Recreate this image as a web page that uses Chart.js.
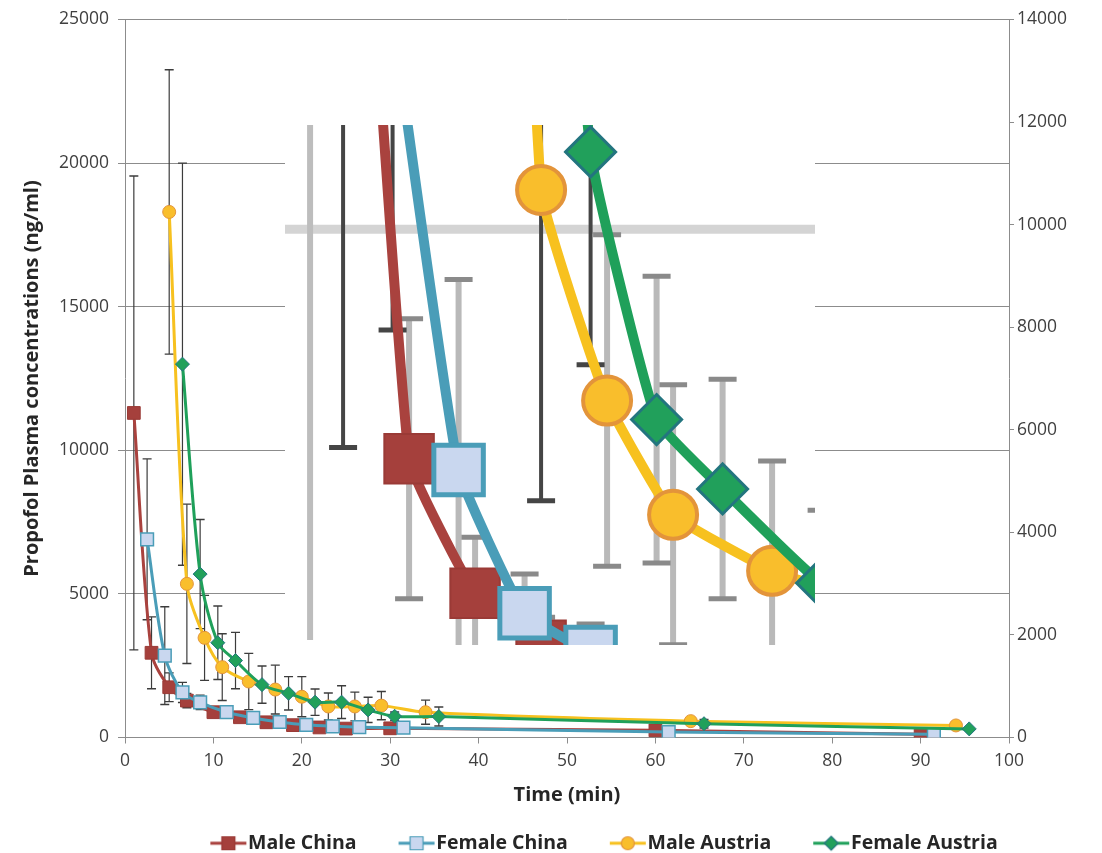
<!DOCTYPE html>
<html>
<head>
<meta charset="utf-8">
<script src="https://cdn.jsdelivr.net/npm/chart.js@4/dist/chart.umd.min.js"></script>
<style>
  html, body { margin: 0; padding: 0; background: #fff; }
  #wrap { position: relative; width: 1102px; height: 853px; }
  #main { position: absolute; left: 0; top: 0; }
  #inset { position: absolute; left: 285px; top: 125px; background: #fff; }
</style>
</head>
<body>
<div id="wrap">
  <canvas id="main" width="1102" height="853"></canvas>
  <canvas id="inset" width="530" height="520"></canvas>
</div>
<script>
// time (min), mean concentration (ng/ml) and SD per group
var timeMaleChina   = [1, 3, 5, 7, 10, 13, 16, 19, 22, 25, 30, 60, 90];
var concMaleChina   = [11300, 2950, 1750, 1285, 880, 705, 530, 430, 350, 310, 320, 250, 110];
var sdMaleChina     = [8250, 1250, 500, 250, 150, 100, 80, 60, 50, 50, 50, 40, 30];

var timeFemaleChina = [2.5, 4.5, 6.5, 8.5, 11.5, 14.5, 17.5, 20.5, 23.5, 26.5, 31.5, 61.5, 91.5];
var concFemaleChina = [6900, 2850, 1570, 1225, 880, 680, 540, 440, 390, 360, 340, 190, 110];
var sdFemaleChina   = [2800, 1700, 350, 250, 150, 100, 80, 60, 50, 50, 50, 40, 30];

var timeMaleAustria = [5, 7, 9, 11, 14, 17, 20, 23, 26, 29, 34, 64, 94];
var concMaleAustria = [18300, 5350, 3470, 2450, 1950, 1670, 1420, 1080, 1080, 1110, 880, 570, 420];
var sdMaleAustria   = [4950, 2775, 1480, 1160, 980, 850, 700, 470, 500, 490, 420, 120, 0];

var timeFemaleAustria = [6.5, 8.5, 10.5, 12.5, 15.5, 18.5, 21.5, 24.5, 27.5, 30.5, 35.5, 65.5, 95.5];
var concFemaleAustria = [13000, 5690, 3300, 2680, 1840, 1540, 1230, 1230, 960, 740, 730, 480, 300];
var sdFemaleAustria   = [7000, 1900, 1280, 980, 650, 580, 460, 570, 440, 150, 330, 150, 0];

var seriesNames = ['Male China', 'Female China', 'Male Austria', 'Female Austria'];
var leftTicks = [0, 5000, 10000, 15000, 20000, 25000];
var rightTicks = [0, 2000, 4000, 6000, 8000, 10000, 12000, 14000];
var timeTicks = [0, 10, 20, 30, 40, 50, 60, 70, 80, 90, 100];

var FONT = "'Open Sans', 'Liberation Sans', sans-serif";
var TXT = '#404040';
var AXIS = '#8c8c8c';

var looks = [
  { line: '#a9423e', fill: '#a5403c', border: '#9a3a36', style: 'rect' },
  { line: '#4a9db8', fill: '#c9d7ef', border: '#4a9db8', style: 'rect' },
  { line: '#f7c11f', fill: '#f9be2c', border: '#e3943a', style: 'circle' },
  { line: '#1fa05a', fill: '#21a05b', border: '#23757f', style: 'rectRot' }
];

function pts(t, v) {
  return t.map(function (x, i) { return { x: x, y: v[i] }; });
}
var allTimes = [timeMaleChina, timeFemaleChina, timeMaleAustria, timeFemaleAustria];
var allConc = [concMaleChina, concFemaleChina, concMaleAustria, concFemaleAustria];
var allSd = [sdMaleChina, sdFemaleChina, sdMaleAustria, sdFemaleAustria];

function buildSets(lineW, radii, borderW, tension) {
  return seriesNames.map(function (name, i) {
    return {
      label: name,
      data: pts(allTimes[i], allConc[i]),
      sd: allSd[i],
      borderColor: looks[i].line,
      borderWidth: lineW,
      pointStyle: looks[i].style,
      pointRadius: radii[i],
      pointBackgroundColor: looks[i].fill,
      pointBorderColor: looks[i].border,
      pointBorderWidth: borderW[i],
      tension: tension,
      order: 3 - i
    };
  });
}

function plainTick(v) { return String(v); }

// error bars drawn under the lines
var errorBars = {
  id: 'errorBars',
  beforeDatasetsDraw: function (chart, args, opts) {
    var ctx = chart.ctx, xs = chart.scales.x, ys = chart.scales.y;
    ctx.save();
    chart.data.datasets.forEach(function (ds, di) {
      ds.data.forEach(function (p, i) {
        var sd = ds.sd[i];
        if (!sd) return;
        var dark = opts.dark && opts.dark[di] && opts.dark[di].indexOf(i) >= 0;
        var px = xs.getPixelForValue(p.x);
        var top = ys.getPixelForValue(p.y + sd);
        var bot = ys.getPixelForValue(p.y - sd);
        ctx.strokeStyle = dark ? opts.darkColor : opts.color;
        ctx.lineWidth = dark ? opts.darkWidth : opts.width;
        ctx.beginPath();
        ctx.moveTo(px, top); ctx.lineTo(px, bot);
        ctx.stroke();
        ctx.strokeStyle = dark ? opts.darkColor : opts.capColor;
        ctx.lineWidth = opts.capWidth;
        ctx.beginPath();
        ctx.moveTo(px - opts.cap, top); ctx.lineTo(px + opts.cap, top);
        ctx.moveTo(px - opts.cap, bot); ctx.lineTo(px + opts.cap, bot);
        ctx.stroke();
      });
    });
    ctx.restore();
  }
};

// the legend sits a little right of the page centre, under the plot
var legendShift = {
  id: 'legendShift',
  afterLayout: function (chart) { chart.legend.left += 74; }
};

// legend icons: short line with the series marker
function makeIcon(i) {
  var c = document.createElement('canvas');
  c.width = 78; c.height = 20;
  var g = c.getContext('2d');
  var x0 = 41, x1 = 77, cx = 59, cy = 10;
  g.strokeStyle = looks[i].line; g.lineWidth = 3;
  g.beginPath(); g.moveTo(x0, cy); g.lineTo(x1, cy); g.stroke();
  g.fillStyle = looks[i].fill; g.strokeStyle = looks[i].border; g.lineWidth = 1.2;
  g.beginPath();
  if (looks[i].style === 'rect') g.rect(cx - 6.5, cy - 6.5, 13, 13);
  else if (looks[i].style === 'circle') g.arc(cx, cy, 6.5, 0, Math.PI * 2);
  else { g.moveTo(cx - 7, cy); g.lineTo(cx, cy - 7); g.lineTo(cx + 7, cy); g.lineTo(cx, cy + 7); g.closePath(); }
  g.fill(); g.stroke();
  return c;
}
var icons = [0, 1, 2, 3].map(makeIcon);

new Chart(document.getElementById('main'), {
  type: 'line',
  data: { datasets: buildSets(3, [9, 9, 6.5, 7], [1, 1.5, 1, 1], 0.3) },
  options: {
    responsive: false,
    animation: false,
    layout: { autoPadding: false, padding: { top: 17, left: 0, right: 0, bottom: -10 } },
    plugins: {
      tooltip: { enabled: false },
      errorBars: { color: '#3c3c3c', capColor: '#3c3c3c', width: 1.2, capWidth: 1.4, cap: 4.5, darkColor: '#3c3c3c', darkWidth: 1.2 },
      legend: {
        position: 'bottom',
        labels: {
          usePointStyle: true,
          pointStyleWidth: 60,
          padding: 10,
          color: '#262626',
          font: { family: FONT, size: 19.5, weight: 'bold' },
          generateLabels: function (chart) {
            return chart.data.datasets.map(function (ds, i) {
              return { text: ds.label, pointStyle: icons[i], datasetIndex: i, hidden: false,
                       lineWidth: 0, strokeStyle: 'rgba(0,0,0,0)', fillStyle: 'rgba(0,0,0,0)', fontColor: '#262626' };
            });
          }
        }
      }
    },
    scales: {
      x: {
        type: 'linear', min: 0, max: 100,
        afterBuildTicks: function (s) { s.ticks = timeTicks.map(function (v) { return { value: v }; }); },
        ticks: { font: { family: FONT, size: 17.5 }, color: TXT, padding: 7, callback: plainTick },
        grid: { drawOnChartArea: false, drawTicks: true, tickLength: 6, color: AXIS },
        border: { color: AXIS },
        title: { display: true, text: 'Time (min)', color: '#262626', font: { family: FONT, size: 20, weight: 'bold' }, padding: { top: 4, bottom: 16 } },
        afterFit: function (s) { s.height = 86; }
      },
      y: {
        position: 'left', min: 0, max: 25000,
        afterBuildTicks: function (s) { s.ticks = leftTicks.map(function (v) { return { value: v }; }); },
        ticks: { font: { family: FONT, size: 17.5 }, color: TXT, padding: 9, callback: plainTick },
        grid: { color: AXIS, tickLength: 7 },
        border: { color: AXIS },
        title: { display: true, text: 'Propofol Plasma concentrations (ng/ml)', color: '#262626', font: { family: FONT, size: 20, weight: 'bold' }, padding: { top: 20, bottom: 0 } },
        afterFit: function (s) { s.width = 125; }
      },
      y2: {
        position: 'right', min: 0, max: 14000,
        afterBuildTicks: function (s) { s.ticks = rightTicks.map(function (v) { return { value: v }; }); },
        ticks: { font: { family: FONT, size: 17.5 }, color: TXT, padding: 3, callback: plainTick },
        grid: { drawOnChartArea: false, tickLength: 5, color: AXIS },
        border: { color: AXIS },
        afterFit: function (s) { s.width = 93; }
      }
    }
  },
  plugins: [errorBars, legendShift]
});

// magnified inset of the early time points
var insetFrame = {
  id: 'insetFrame',
  beforeDatasetsDraw: function (chart) {
    var ctx = chart.ctx, xs = chart.scales.x, ys = chart.scales.y, a = chart.chartArea;
    ctx.save();
    ctx.strokeStyle = '#d4d4d4'; ctx.lineWidth = 9;
    var gy = ys.getPixelForValue(5000);
    ctx.beginPath(); ctx.moveTo(a.left, gy); ctx.lineTo(a.right, gy); ctx.stroke();
    ctx.strokeStyle = '#bdbdbd'; ctx.lineWidth = 6;
    var ax = xs.getPixelForValue(0);
    ctx.beginPath(); ctx.moveTo(ax, a.top); ctx.lineTo(ax, a.bottom - 5); ctx.stroke();
    ctx.restore();
  }
};

new Chart(document.getElementById('inset'), {
  type: 'line',
  data: { datasets: buildSets(10, [35, 35, 24, 25], [2, 5, 4, 3], 0.12) },
  options: {
    responsive: false,
    animation: false,
    layout: { autoPadding: false, padding: 0 },
    plugins: {
      legend: { display: false },
      tooltip: { enabled: false },
      errorBars: { color: '#b9b9b9', capColor: '#8a8a8a', width: 6, capWidth: 5, cap: 14,
                   darkColor: '#454545', darkWidth: 4,
                   dark: [[0], [0], [1], [0, 1]] }
    },
    scales: {
      x: { type: 'linear', display: false, min: -0.76, max: 15.3 },
      y: { display: false, min: 1287, max: 5930 }
    }
  },
  plugins: [insetFrame, errorBars]
});
</script>
</body>
</html>
